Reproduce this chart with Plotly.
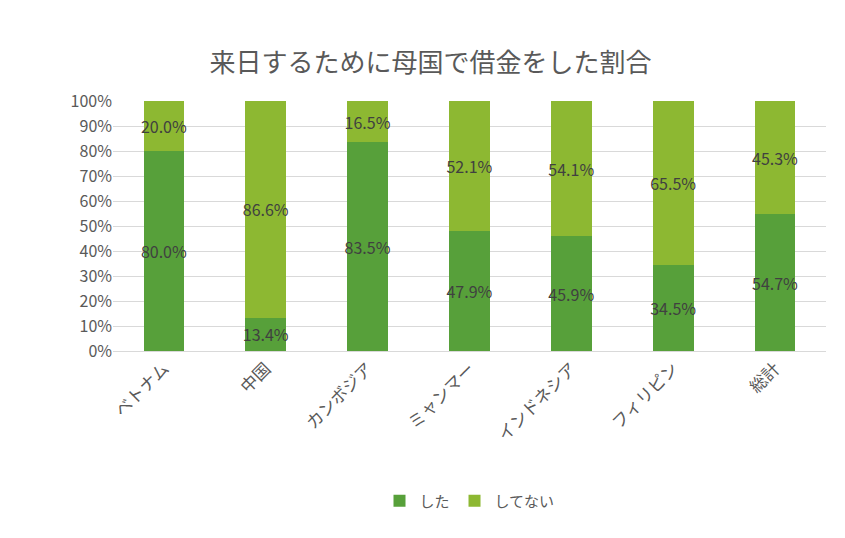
import plotly.graph_objects as go

countries = ["ベトナム", "中国", "カンボジア", "ミャンマー", "インドネシア", "フィリピン", "総計"]
did = [80.0, 13.4, 83.5, 47.9, 45.9, 34.5, 54.7]
did_not = [20.0, 86.6, 16.5, 52.1, 54.1, 65.5, 45.3]

font = "Noto Sans CJK JP"

fig = go.Figure()
fig.add_trace(go.Bar(x=countries, y=did, name="した", marker_color="#57a03a",
                     marker_line_width=0,
                     text=[f"{v:.1f}%" for v in did], textposition="inside",
                     insidetextanchor="middle", textangle=0,
                     textfont=dict(color="#404040", size=16, family=font)))
fig.add_trace(go.Bar(x=countries, y=did_not, name="してない", marker_color="#8db832",
                     marker_line_width=0,
                     text=[f"{v:.1f}%" for v in did_not], textposition="inside",
                     insidetextanchor="middle", textangle=0,
                     textfont=dict(color="#404040", size=16, family=font)))

fig.update_layout(
    barmode="stack", bargap=0.6,
    width=845, height=538,
    paper_bgcolor="white", plot_bgcolor="white",
    font=dict(family=font, color="#595959"),
    title=dict(text="来日するために母国で借金をした割合", x=0.5, y=0.915,
               xanchor="center", font=dict(size=26, color="#595959")),
    margin=dict(l=105, r=27, t=93, b=195),
    legend=dict(orientation="h", x=0.5, xanchor="center", y=-0.6, yanchor="middle",
                traceorder="normal", font=dict(size=15, color="#595959")),
    uniformtext=dict(minsize=16, mode="show"),
)
fig.update_yaxes(range=[0, 100], dtick=10, ticksuffix="%", gridcolor="#d9d9d9",
                 tickfont=dict(size=16, color="#595959"), zeroline=False)
fig.update_xaxes(tickangle=-45, tickfont=dict(size=17, color="#595959"),
                 showline=True, linecolor="#d9d9d9")

fig.write_html("out.html")
